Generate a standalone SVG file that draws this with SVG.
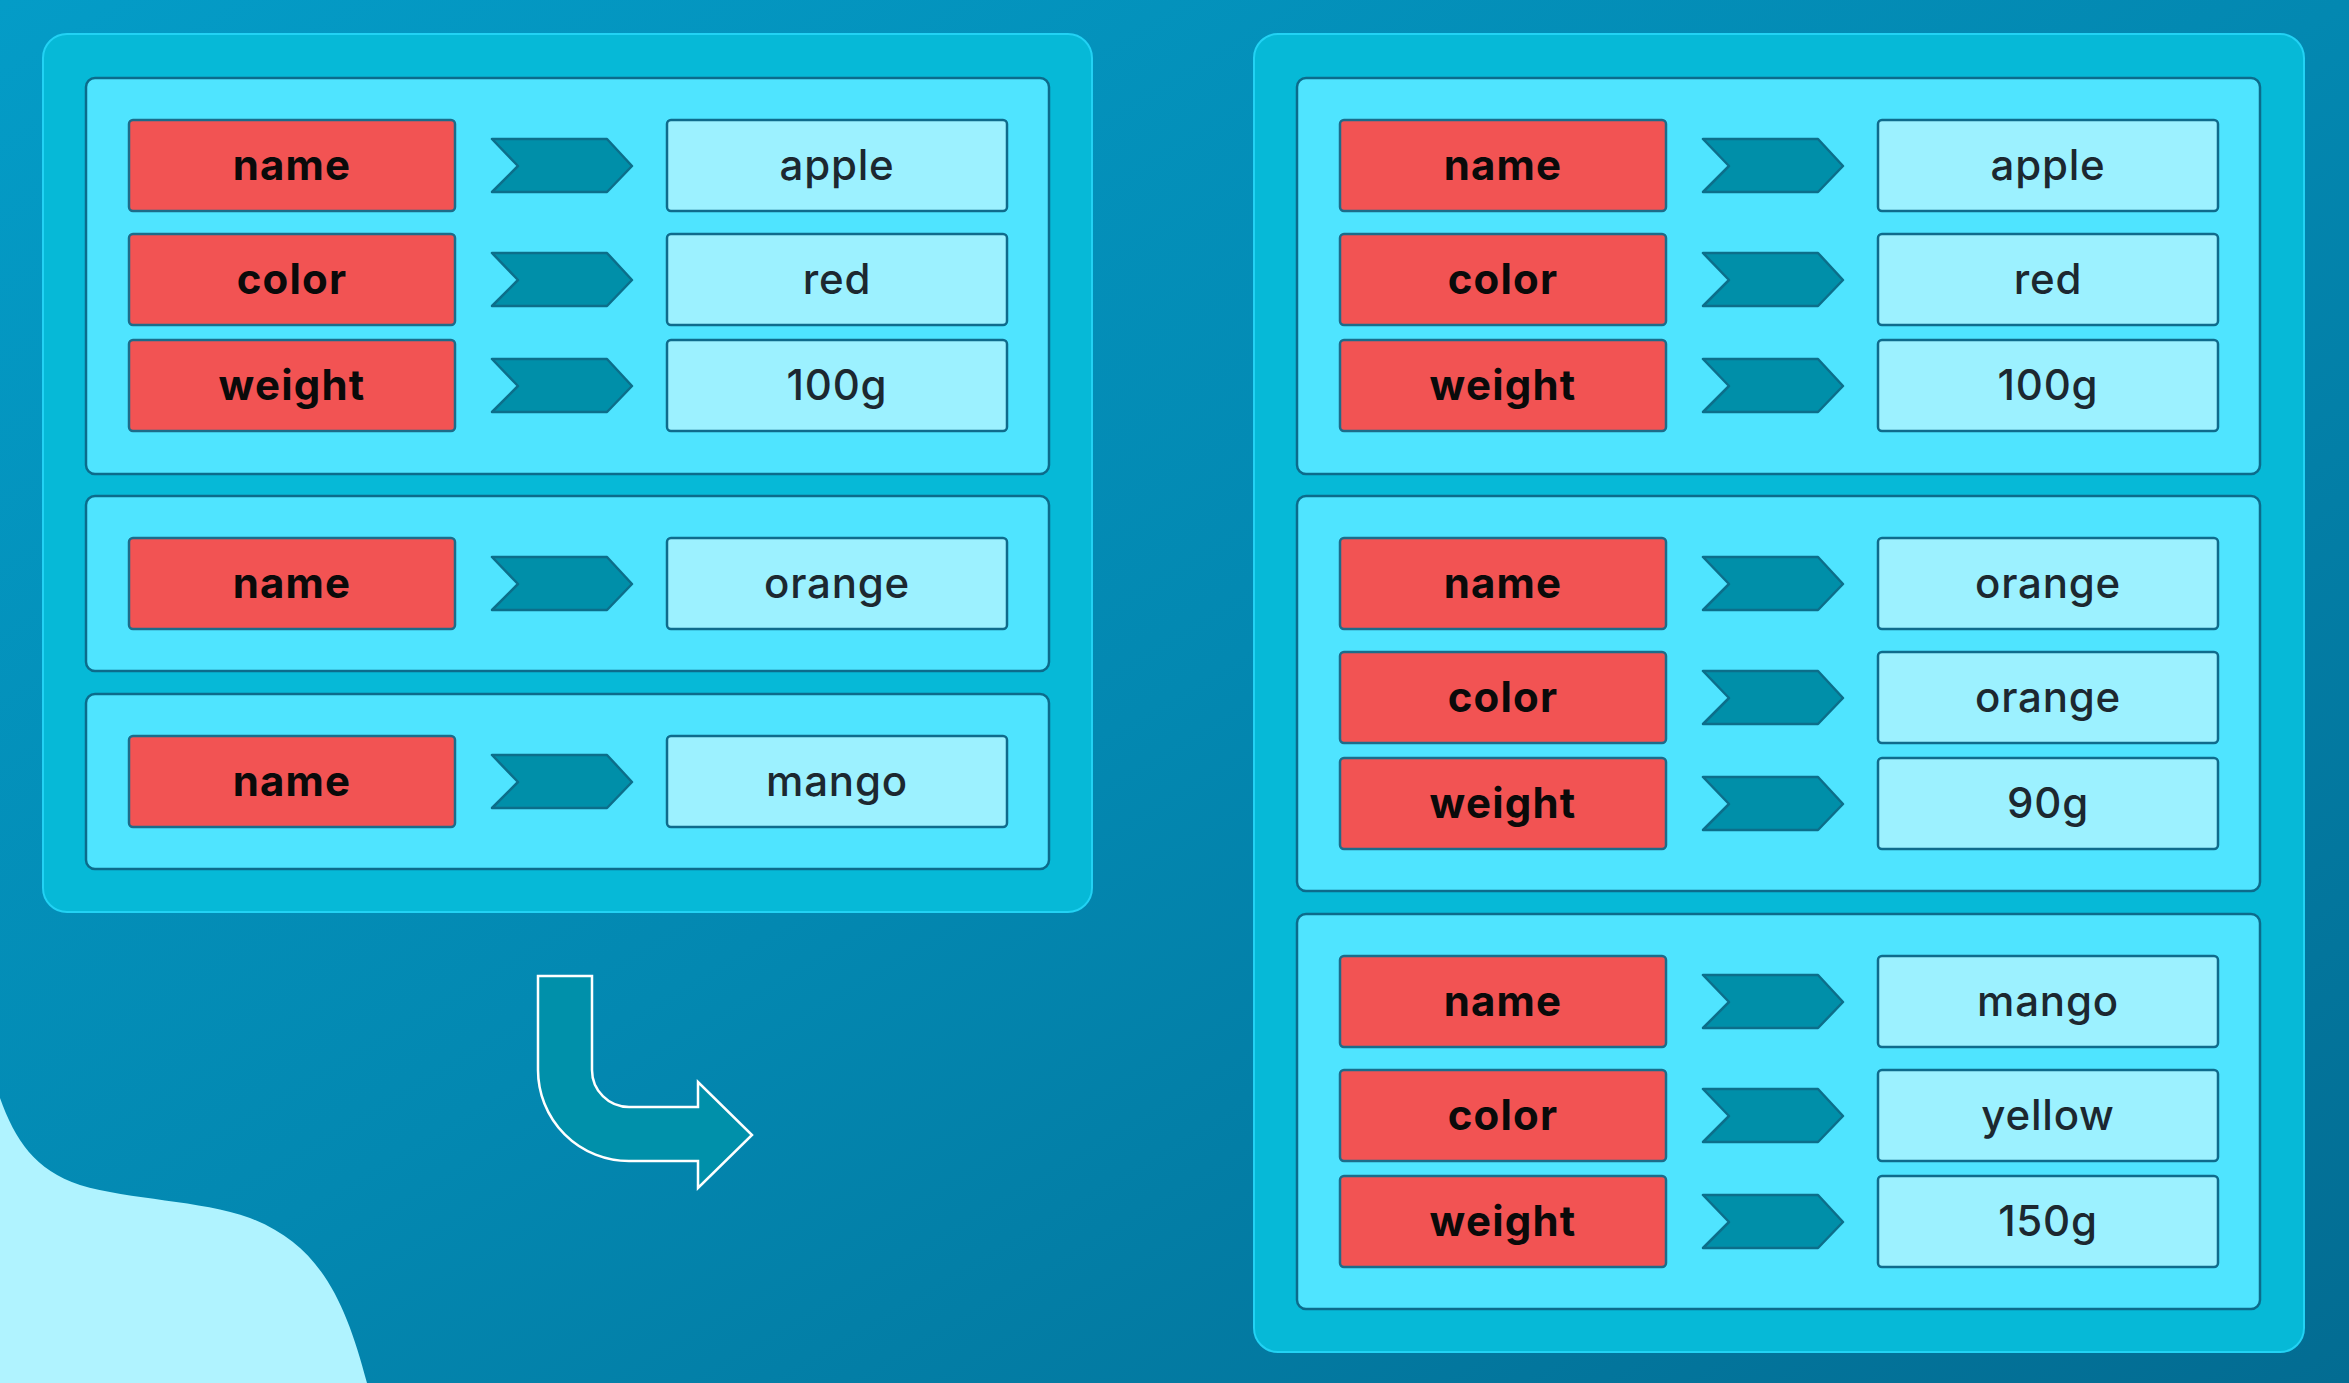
<svg xmlns="http://www.w3.org/2000/svg" xmlns:xlink="http://www.w3.org/1999/xlink" width="2349" height="1383" viewBox="0 0 2349 1383">
<defs>
<linearGradient id="bg" x1="0" y1="0" x2="1" y2="1">
<stop offset="0" stop-color="#049cc7"/>
<stop offset="0.5" stop-color="#0388b1"/>
<stop offset="1" stop-color="#036c92"/>
</linearGradient>
<polygon id="chev" points="0,19 115,19 140,46 115,72 0,72 26,46"/>
<style>
.outer{fill:#06b9d7;stroke:#22d2f4;stroke-width:2}
.inner{fill:#4fe4ff;stroke:#0c6b8b;stroke-width:2.5}
.key{fill:#f25353;stroke:#1c6c8a;stroke-width:2.5}
.val{fill:#9cf1ff;stroke:#0f6b8c;stroke-width:2.5}
.chev{fill:#008fa9;stroke:#0c6e8a;stroke-width:2.5;stroke-linejoin:round}
.kt{font-family:Inter,"Liberation Sans",sans-serif;font-weight:700;font-size:42px;letter-spacing:1.2px;fill:#0a0a0a;text-anchor:middle}
.vt{font-family:Inter,"Liberation Sans",sans-serif;font-weight:500;font-size:42px;letter-spacing:0.8px;fill:#1c2830;text-anchor:middle}
</style>
</defs>
<rect x="0" y="0" width="2349" height="1383" fill="url(#bg)"/>
<path d="M0,1098 C15,1140 35,1170 80,1185 C130,1200 200,1200 250,1218 C320,1245 345,1300 367,1383 L0,1383 Z" fill="#b0f3ff"/>

<g id="left-panel">
<rect class="outer" x="43" y="34" width="1049" height="878" rx="24"/>
<rect class="inner" x="86" y="78" width="963" height="396" rx="9"/>
<rect class="inner" x="86" y="496" width="963" height="175" rx="9"/>
<rect class="inner" x="86" y="694" width="963" height="175" rx="9"/>
</g>

<g id="right-panel">
<rect class="outer" x="1254" y="34" width="1050" height="1318" rx="24"/>
<rect class="inner" x="1297" y="78" width="963" height="396" rx="9"/>
<rect class="inner" x="1297" y="496" width="963" height="395" rx="9"/>
<rect class="inner" x="1297" y="914" width="963" height="395" rx="9"/>
</g>

<g id="left-apple">
<g id="l-apple-name"><rect class="key" x="129" y="120" width="326" height="91" rx="4"/><text class="kt" x="292" y="180">name</text></g>
<g id="l-apple-name-val"><rect class="val" x="667" y="120" width="340" height="91" rx="4"/><text class="vt" x="837" y="180">apple</text></g>
<g id="l-apple-color"><rect class="key" x="129" y="234" width="326" height="91" rx="4"/><text class="kt" x="292" y="294">color</text></g>
<g id="l-apple-color-val"><rect class="val" x="667" y="234" width="340" height="91" rx="4"/><text class="vt" x="837" y="294">red</text></g>
<g id="l-apple-weight"><rect class="key" x="129" y="340" width="326" height="91" rx="4"/><text class="kt" x="292" y="400">weight</text></g>
<g id="l-apple-weight-val"><rect class="val" x="667" y="340" width="340" height="91" rx="4"/><text class="vt" x="837" y="400">100g</text></g>
</g>
<g id="left-orange">
<g id="l-orange-name"><rect class="key" x="129" y="538" width="326" height="91" rx="4"/><text class="kt" x="292" y="598">name</text></g>
<g id="l-orange-name-val"><rect class="val" x="667" y="538" width="340" height="91" rx="4"/><text class="vt" x="837" y="598">orange</text></g>
</g>
<g id="left-mango">
<g id="l-mango-name"><rect class="key" x="129" y="736" width="326" height="91" rx="4"/><text class="kt" x="292" y="796">name</text></g>
<g id="l-mango-name-val"><rect class="val" x="667" y="736" width="340" height="91" rx="4"/><text class="vt" x="837" y="796">mango</text></g>
</g>

<g id="right-apple">
<g id="r-apple-name"><rect class="key" x="1340" y="120" width="326" height="91" rx="4"/><text class="kt" x="1503" y="180">name</text></g>
<g id="r-apple-name-val"><rect class="val" x="1878" y="120" width="340" height="91" rx="4"/><text class="vt" x="2048" y="180">apple</text></g>
<g id="r-apple-color"><rect class="key" x="1340" y="234" width="326" height="91" rx="4"/><text class="kt" x="1503" y="294">color</text></g>
<g id="r-apple-color-val"><rect class="val" x="1878" y="234" width="340" height="91" rx="4"/><text class="vt" x="2048" y="294">red</text></g>
<g id="r-apple-weight"><rect class="key" x="1340" y="340" width="326" height="91" rx="4"/><text class="kt" x="1503" y="400">weight</text></g>
<g id="r-apple-weight-val"><rect class="val" x="1878" y="340" width="340" height="91" rx="4"/><text class="vt" x="2048" y="400">100g</text></g>
</g>
<g id="right-orange">
<g id="r-orange-name"><rect class="key" x="1340" y="538" width="326" height="91" rx="4"/><text class="kt" x="1503" y="598">name</text></g>
<g id="r-orange-name-val"><rect class="val" x="1878" y="538" width="340" height="91" rx="4"/><text class="vt" x="2048" y="598">orange</text></g>
<g id="r-orange-color"><rect class="key" x="1340" y="652" width="326" height="91" rx="4"/><text class="kt" x="1503" y="712">color</text></g>
<g id="r-orange-color-val"><rect class="val" x="1878" y="652" width="340" height="91" rx="4"/><text class="vt" x="2048" y="712">orange</text></g>
<g id="r-orange-weight"><rect class="key" x="1340" y="758" width="326" height="91" rx="4"/><text class="kt" x="1503" y="818">weight</text></g>
<g id="r-orange-weight-val"><rect class="val" x="1878" y="758" width="340" height="91" rx="4"/><text class="vt" x="2048" y="818">90g</text></g>
</g>
<g id="right-mango">
<g id="r-mango-name"><rect class="key" x="1340" y="956" width="326" height="91" rx="4"/><text class="kt" x="1503" y="1016">name</text></g>
<g id="r-mango-name-val"><rect class="val" x="1878" y="956" width="340" height="91" rx="4"/><text class="vt" x="2048" y="1016">mango</text></g>
<g id="r-mango-color"><rect class="key" x="1340" y="1070" width="326" height="91" rx="4"/><text class="kt" x="1503" y="1130">color</text></g>
<g id="r-mango-color-val"><rect class="val" x="1878" y="1070" width="340" height="91" rx="4"/><text class="vt" x="2048" y="1130">yellow</text></g>
<g id="r-mango-weight"><rect class="key" x="1340" y="1176" width="326" height="91" rx="4"/><text class="kt" x="1503" y="1236">weight</text></g>
<g id="r-mango-weight-val"><rect class="val" x="1878" y="1176" width="340" height="91" rx="4"/><text class="vt" x="2048" y="1236">150g</text></g>
</g>

<g id="connectors">
<use href="#chev" class="chev" x="492" y="120"/>
<use href="#chev" class="chev" x="492" y="234"/>
<use href="#chev" class="chev" x="492" y="340"/>
<use href="#chev" class="chev" x="492" y="538"/>
<use href="#chev" class="chev" x="492" y="736"/>
<use href="#chev" class="chev" x="1703" y="120"/>
<use href="#chev" class="chev" x="1703" y="234"/>
<use href="#chev" class="chev" x="1703" y="340"/>
<use href="#chev" class="chev" x="1703" y="538"/>
<use href="#chev" class="chev" x="1703" y="652"/>
<use href="#chev" class="chev" x="1703" y="758"/>
<use href="#chev" class="chev" x="1703" y="956"/>
<use href="#chev" class="chev" x="1703" y="1070"/>
<use href="#chev" class="chev" x="1703" y="1176"/>
<path id="bent-arrow" d="M538,976 L592,976 L592,1070 A37,37 0 0 0 629,1107 L698,1107 L698,1082 L752,1135 L698,1188 L698,1161 L629,1161 A91,91 0 0 1 538,1070 Z" fill="#0090aa" stroke="#ffffff" stroke-width="2.5" stroke-linejoin="miter"/>
</g>
</svg>
